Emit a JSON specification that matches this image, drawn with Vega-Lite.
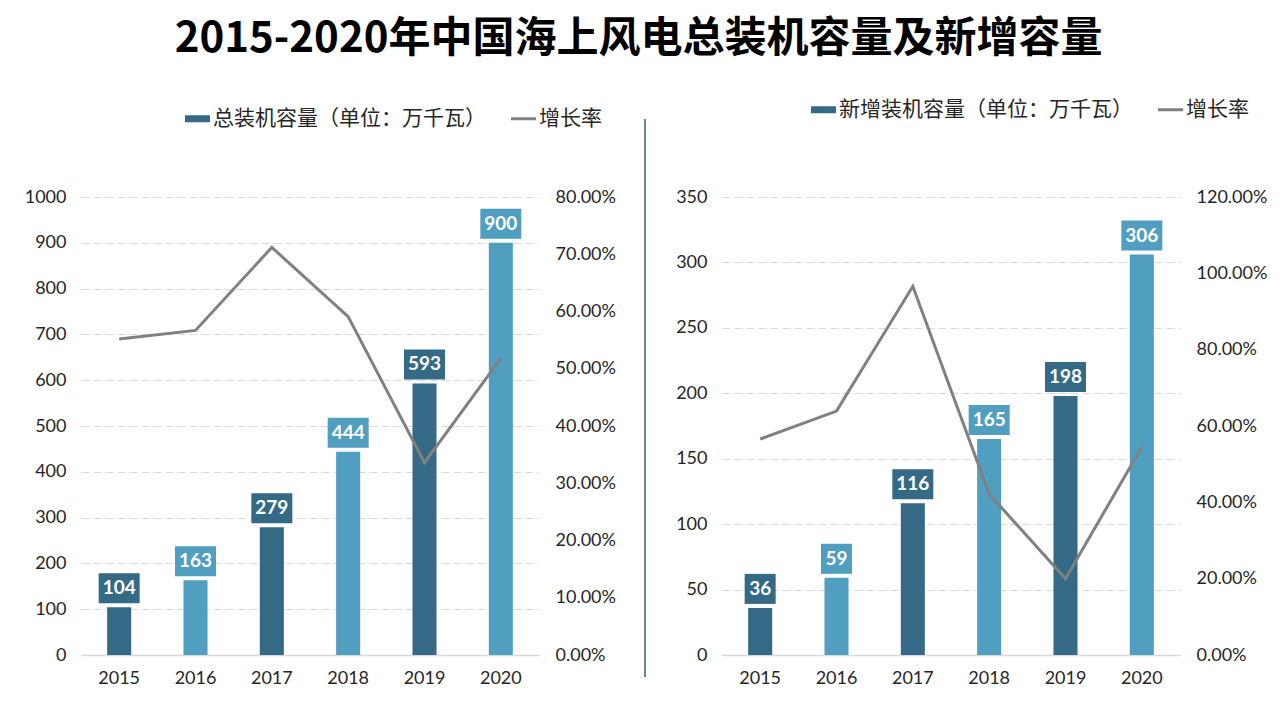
{
  "$schema": "https://vega.github.io/schema/vega-lite/v6.json",
  "background": "#ffffff",
  "padding": {"left": 24, "top": 18, "right": 10, "bottom": 10},
  "title": {
    "text": "2015-2020年中国海上风电总装机容量及新增容量",
    "font": "Noto Sans CJK SC",
    "fontSize": 42,
    "fontWeight": "bold",
    "color": "#000000",
    "anchor": "middle",
    "dx": -7,
    "offset": 38
  },
  "datasets": {
    "main": [
      {"year": "2015", "total": 104, "totalRate": 0.552, "added": 36, "addedRate": 0.566},
      {"year": "2016", "total": 163, "totalRate": 0.567, "added": 59, "addedRate": 0.639},
      {"year": "2017", "total": 279, "totalRate": 0.712, "added": 116, "addedRate": 0.966},
      {"year": "2018", "total": 444, "totalRate": 0.591, "added": 165, "addedRate": 0.422},
      {"year": "2019", "total": 593, "totalRate": 0.336, "added": 198, "addedRate": 0.2},
      {"year": "2020", "total": 900, "totalRate": 0.518, "added": 306, "addedRate": 0.545}
    ],
    "divider": [{"k": 0}]
  },
  "spacing": 28,
  "hconcat": [
    {
      "data": {"name": "main"},
      "width": 458,
      "height": 458,
      "encoding": {
        "x": {
          "field": "year", "type": "nominal",
          "scale": {"type": "band", "paddingInner": 0.685, "paddingOuter": 0.3425},
          "axis": {"title": null, "labelAngle": 0, "domain": true, "domainColor": "#d9d9d9", "domainWidth": 1.5, "ticks": false, "labelPadding": 14, "labelFont": "Lato", "labelFontSize": 18, "labelColor": "#262626", "grid": false}
        }
      },
      "layer": [
        {
          "encoding": {
            "y": {
              "field": "total", "type": "quantitative",
              "scale": {"domain": [0, 1000], "nice": false},
              "axis": {"title": null, "format": "d", "values": [0,100,200,300,400,500,600,700,800,900,1000], "grid": true, "gridColor": "#d9d9d9", "gridDash": [8, 4], "domain": false, "ticks": false, "labelPadding": 15, "labelFont": "Lato", "labelFontSize": 18, "labelColor": "#262626"}
            },
            "fill": {
              "field": "year", "type": "nominal",
              "scale": {"domain": ["2015","2016","2017","2018","2019","2020"], "range": ["#346a85","#509fc0","#346a85","#509fc0","#346a85","#509fc0"]},
              "legend": null
            }
          },
          "layer": [
            {"mark": {"type": "bar"}},
            {
              "mark": {"type": "point", "filled": true, "opacity": 1, "size": 1681, "strokeWidth": 0},
              "encoding": {
                "shape": {
                  "condition": {"test": "datum.total < 100", "value": "M-0.756,-1.659H0.756V-0.195H-0.756Z"},
                  "value": "M-1,-1.659H1V-0.195H-1Z"
                }
              }
            },
            {
              "mark": {"type": "text", "dy": -19, "baseline": "middle", "align": "center", "font": "Lato", "fontSize": 19, "fontWeight": "bold"},
              "encoding": {"text": {"field": "total", "type": "quantitative"}, "fill": {"value": "#ffffff"}}
            }
          ]
        },
        {
          "mark": {"type": "line", "strokeWidth": 3},
          "encoding": {
            "y": {
              "field": "totalRate", "type": "quantitative",
              "scale": {"domain": [0, 0.8], "nice": false},
              "axis": {"title": null, "orient": "right", "format": ".2%", "values": [0,0.1,0.2,0.3,0.4,0.5,0.6,0.7,0.8], "grid": false, "domain": false, "ticks": false, "labelPadding": 16, "labelFont": "Lato", "labelFontSize": 18, "labelColor": "#262626"}
            },
            "color": {
              "datum": "增长率", "type": "nominal",
              "scale": {"domain": ["总装机容量（单位：万千瓦）", "增长率"], "range": ["#346a85", "#808080"]},
              "legend": {
                "orient": "none", "legendX": 106, "legendY": -89, "direction": "horizontal", "title": null, "padding": 0,
                "labelFont": "Noto Sans CJK SC", "labelFontSize": 21, "labelColor": "#262626", "labelLimit": 0,
                "symbolSize": 625, "labelOffset": 5, "columnPadding": 19,
                "encode": {"symbols": {"update": {
                  "shape": {"signal": "datum.value === '增长率' ? 'stroke' : 'M-1,-0.28H1V0.28H-1Z'"},
                  "fill": {"signal": "datum.value === '增长率' ? 'transparent' : '#346a85'"},
                  "stroke": {"signal": "datum.value === '增长率' ? '#808080' : '#346a85'"},
                  "strokeWidth": {"signal": "datum.value === '增长率' ? 3 : 0"},
                  "opacity": {"value": 1}
                }}}
              }
            }
          }
        }
      ],
      "resolve": {"scale": {"y": "independent"}}
    },
    {
      "data": {"name": "divider"},
      "width": 2,
      "height": 458,
      "mark": {"type": "rule", "color": "#2e5f73", "strokeWidth": 1.5},
      "encoding": {
        "x": {"value": 0},
        "y": {"datum": 0, "type": "quantitative", "scale": {"domain": [0, 1], "range": [480, -78]}, "axis": null},
        "y2": {"datum": 1}
      }
    },
    {
      "data": {"name": "main"},
      "width": 458,
      "height": 458,
      "encoding": {
        "x": {
          "field": "year", "type": "nominal",
          "scale": {"type": "band", "paddingInner": 0.685, "paddingOuter": 0.3425},
          "axis": {"title": null, "labelAngle": 0, "domain": true, "domainColor": "#d9d9d9", "domainWidth": 1.5, "ticks": false, "labelPadding": 14, "labelFont": "Lato", "labelFontSize": 18, "labelColor": "#262626", "grid": false}
        }
      },
      "layer": [
        {
          "encoding": {
            "y": {
              "field": "added", "type": "quantitative",
              "scale": {"domain": [0, 350], "nice": false},
              "axis": {"title": null, "format": "d", "values": [0,50,100,150,200,250,300,350], "grid": true, "gridColor": "#d9d9d9", "gridDash": [8, 4], "domain": false, "ticks": false, "labelPadding": 15, "labelFont": "Lato", "labelFontSize": 18, "labelColor": "#262626"}
            },
            "fill": {
              "field": "year", "type": "nominal",
              "scale": {"domain": ["2015","2016","2017","2018","2019","2020"], "range": ["#346a85","#509fc0","#346a85","#509fc0","#346a85","#509fc0"]},
              "legend": null
            }
          },
          "layer": [
            {"mark": {"type": "bar"}},
            {
              "mark": {"type": "point", "filled": true, "opacity": 1, "size": 1681, "strokeWidth": 0},
              "encoding": {
                "shape": {
                  "condition": {"test": "datum.added < 100", "value": "M-0.756,-1.659H0.756V-0.195H-0.756Z"},
                  "value": "M-1,-1.659H1V-0.195H-1Z"
                }
              }
            },
            {
              "mark": {"type": "text", "dy": -19, "baseline": "middle", "align": "center", "font": "Lato", "fontSize": 19, "fontWeight": "bold"},
              "encoding": {"text": {"field": "added", "type": "quantitative"}, "fill": {"value": "#ffffff"}}
            }
          ]
        },
        {
          "mark": {"type": "line", "strokeWidth": 3},
          "encoding": {
            "y": {
              "field": "addedRate", "type": "quantitative",
              "scale": {"domain": [0, 1.2], "nice": false},
              "axis": {"title": null, "orient": "right", "format": ".2%", "values": [0,0.2,0.4,0.6,0.8,1.0,1.2], "grid": false, "domain": false, "ticks": false, "labelPadding": 16, "labelFont": "Lato", "labelFontSize": 18, "labelColor": "#262626"}
            },
            "color": {
              "datum": "增长率", "type": "nominal",
              "scale": {"domain": ["新增装机容量（单位：万千瓦）", "增长率"], "range": ["#346a85", "#808080"]},
              "legend": {
                "orient": "none", "legendX": 91, "legendY": -98, "direction": "horizontal", "title": null, "padding": 0,
                "labelFont": "Noto Sans CJK SC", "labelFontSize": 21, "labelColor": "#262626", "labelLimit": 0,
                "symbolSize": 625, "labelOffset": 5, "columnPadding": 19,
                "encode": {"symbols": {"update": {
                  "shape": {"signal": "datum.value === '增长率' ? 'stroke' : 'M-1,-0.28H1V0.28H-1Z'"},
                  "fill": {"signal": "datum.value === '增长率' ? 'transparent' : '#346a85'"},
                  "stroke": {"signal": "datum.value === '增长率' ? '#808080' : '#346a85'"},
                  "strokeWidth": {"signal": "datum.value === '增长率' ? 3 : 0"},
                  "opacity": {"value": 1}
                }}}
              }
            }
          }
        }
      ],
      "resolve": {"scale": {"y": "independent"}}
    }
  ],
  "resolve": {"scale": {"color": "independent", "x": "independent"}, "legend": {"color": "independent"}},
  "config": {
    "view": {"stroke": null},
    "font": "Lato"
  }
}
